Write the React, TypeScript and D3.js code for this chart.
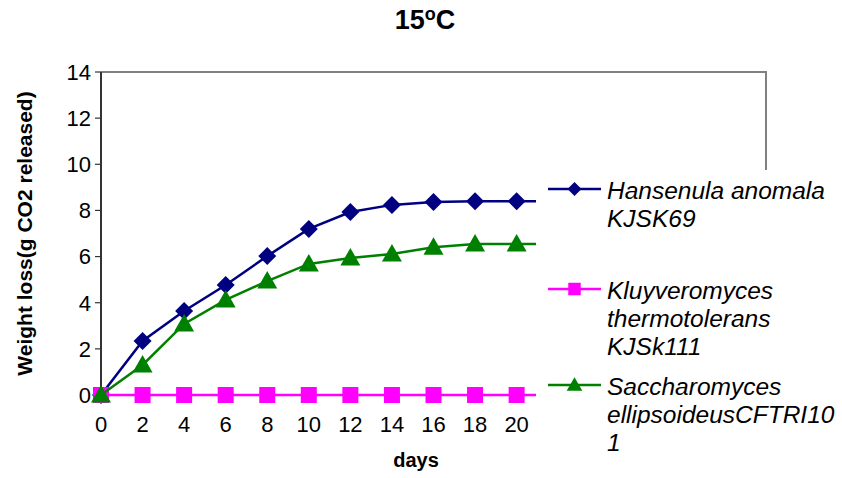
import React from "react";
import * as d3 from "d3";

const days = [0, 2, 4, 6, 8, 10, 12, 14, 16, 18, 20, 22];
const hansenula = [0, 2.34, 3.64, 4.77, 6.02, 7.2, 7.93, 8.24, 8.37, 8.4, 8.4, 8.4];
const kluyveromyces = [0, 0, 0, 0, 0, 0, 0, 0, 0, 0, 0, 0];
const saccharomyces = [0, 1.3, 3.08, 4.12, 4.94, 5.68, 5.94, 6.11, 6.4, 6.55, 6.55, 6.55];
const yTicks = [0, 2, 4, 6, 8, 10, 12, 14];
const xTicks = [0, 2, 4, 6, 8, 10, 12, 14, 16, 18, 20];

const seriesList = [
  { name: ["Hansenula anomala", "KJSK69"], values: hansenula, color: "#000080", marker: "diamond" },
  { name: ["Kluyveromyces", "thermotolerans", "KJSk111"], values: kluyveromyces, color: "#FF00FF", marker: "square" },
  { name: ["Saccharomyces", "ellipsoideusCFTRI10", "1"], values: saccharomyces, color: "#008000", marker: "triangle" },
];

const FONT = "'Liberation Sans', Arial, sans-serif";

function Marker({ type, x, y, color, s = 1 }: { type: string; x: number; y: number; color: string; s?: number }) {
  if (type === "diamond") {
    const r = 9 * s;
    return <path d={`M${x},${y - r}L${x + r},${y}L${x},${y + r}L${x - r},${y}Z`} fill={color} />;
  }
  if (type === "square") {
    const r = 8 * s;
    return <rect x={x - r} y={y - r} width={2 * r} height={2 * r} fill={color} />;
  }
  const r = 10 * s;
  return <path d={`M${x},${y - r}L${x + r},${y + r * 0.75}L${x - r},${y + r * 0.75}Z`} fill={color} />;
}

export default function App() {
  const W = 842, H = 478;
  const x = d3.scaleLinear().domain([0, 32]).range([101, 766]);
  const y = d3.scaleLinear().domain([0, 14]).range([395, 72]);
  const line = d3.line<[number, number]>().x((d) => x(d[0])).y((d) => y(d[1]));
  const legendRows = [189, 289, 385];

  return (
    <svg width={W} height={H} style={{ position: "absolute", left: 0, top: 0, fontFamily: FONT }}>
      <rect width={W} height={H} fill="#fff" />
      {/* plot frame */}
      <path d={`M${x(0)},${y(14)}H${x(32)}V${y(0)}`} fill="none" stroke="#808080" strokeWidth={2} />
      {/* y axis */}
      <line x1={x(0)} x2={x(0)} y1={y(14)} y2={y(0)} stroke="#333" strokeWidth={2} />
      {yTicks.map((t) => (
        <g key={t}>
          <line x1={x(0) - 6} x2={x(0)} y1={y(t)} y2={y(t)} stroke="#333" strokeWidth={1.2} />
          <text x={x(0) - 10} y={y(t)} dy="0.36em" textAnchor="end" fontSize={22}>{t}</text>
        </g>
      ))}
      {/* x axis */}
      <line x1={x(0)} x2={x(32)} y1={y(0)} y2={y(0)} stroke="#333" strokeWidth={2} />
      {xTicks.map((t) => (
        <g key={t}>
          <line x1={x(t)} x2={x(t)} y1={y(0)} y2={y(0) + 5} stroke="#333" strokeWidth={1.2} />
          <text x={x(t)} y={y(0) + 37} textAnchor="middle" fontSize={22}>{t}</text>
        </g>
      ))}
      {/* series */}
      {seriesList.map((s) => {
        const pts = days.map((d, i) => [d, s.values[i]] as [number, number]);
        return (
          <g key={s.name[0]}>
            <path d={line(pts) || ""} fill="none" stroke={s.color} strokeWidth={2.5} />
            {pts.map((p, i) => (
              <Marker key={i} type={s.marker} x={x(p[0])} y={y(p[1])} color={s.color} />
            ))}
          </g>
        );
      })}
      {/* legend box */}
      <rect x={536} y={170} width={306} height={290} fill="#fff" />
      {seriesList.map((s, i) => {
        const ly = legendRows[i];
        return (
          <g key={"lg" + i}>
            <line x1={548} x2={601} y1={ly} y2={ly} stroke={s.color} strokeWidth={2.5} />
            <Marker type={s.marker} x={574.5} y={ly} color={s.color} s={0.78} />
            {s.name.map((n, j) => (
              <text key={j} x={607} y={ly + 10 + j * 28} fontSize={24.5} fontStyle="italic">{n}</text>
            ))}
          </g>
        );
      })}
      {/* titles */}
      <text x={425} y={29} textAnchor="middle" fontSize={27} fontWeight="bold">
        15<tspan fontSize={18} dy={-9}>o</tspan><tspan dy={9}>C</tspan>
      </text>
      <text x={416} y={467} textAnchor="middle" fontSize={20} fontWeight="bold">days</text>
      <text transform={`translate(32,${(y(0) + y(14)) / 2}) rotate(-90)`} textAnchor="middle" fontSize={21} fontWeight="bold">
        Weight loss(g CO2 released)
      </text>
    </svg>
  );
}
